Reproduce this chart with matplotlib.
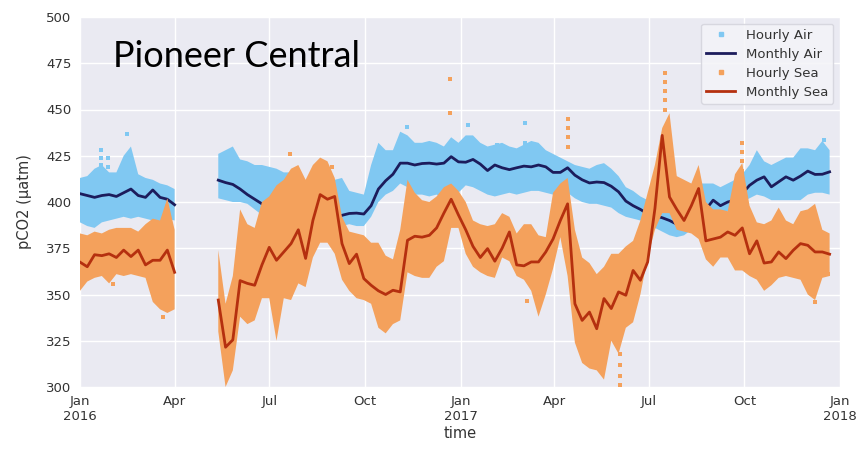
import matplotlib
matplotlib.use("Agg")
import matplotlib.pyplot as plt
import numpy as np
import pandas as pd
from matplotlib.lines import Line2D

N = np.nan

# weekly time axis
week_dates = pd.date_range("2016-01-01", periods=104, freq="7D")

air_mean = [404.5, 403.5, 402.5, 403.5, 404, 403, 405, 407, 403.5, 402.5, 406.5, 402.5, 401.5, 398.5,
            N, N, N, N, N,
            411.8, 410.5, 409.5, 407, 404, 401.5, 399, 396.5, 397.5, 401, 396, 393, 392, 392.5, 392.5,
            392, 391.5, 392.8, 393.8, 394, 393.5, 398, 407, 411.5, 415, 421, 421, 420, 420.8, 421,
            420.5, 421, 424.5, 421.7, 421.5, 423, 420.5, 417, 420, 418.5, 417.5, 418.5, 419.4, 419,
            420, 419, 416, 416, 418.5, 414.5, 412, 410.3, 410.8, 410.5, 408.5, 405.5, 400.5, 398,
            396, 393.5, 392.5, 391.5, 390, 388, 389, 393, 400, 396, 401, 398, 400, 401, 404.6, 409,
            411.8, 413.6, 408.2, 410.9, 413.6, 411.8, 414, 416.7, 414.9, 415, 416.3]

sea_mean = [367.5, 365, 371.5, 371, 372, 370, 374, 370.5, 374, 366, 368.5, 368.5, 374, 362,
            N, N, N, N, N,
            347, 321.5, 325.5, 357.5, 356, 355, 366, 375.5, 368.5, 373, 377.5, 385, 369.5, 390, 404,
            401.5, 403, 377.5, 366.7, 371.8, 358.6, 355, 352, 350, 352.3, 351.4, 379.3, 381.5, 381,
            382, 386, 394, 401.5, 393, 385, 376, 370, 374.8, 368, 375, 383.8, 366, 365.5, 367.6,
            367.6, 373, 380, 390, 399, 345, 336, 340.5, 331.5, 347.8, 342.4, 351.4, 349.6, 363,
            357.7, 367.6, 396.5, 436, 402.7, 396, 390, 398, 407.3, 379, 380, 381, 383.8, 382, 386,
            372, 379, 367, 367.6, 373, 369.4, 373.9, 377.5, 376.6, 373, 373, 371.8]

air_hourly_hi = [413, 414, 418, 420, 416, 416, 425, 430, 415, 413, 412, 410, 409, 407,
                 N, N, N, N, N,
                 426, 428, 430, 423, 422, 420, 420, 419, 418, 416, 416, 412, 410, 408, 408, 410, 412,
                 413, 406, 405, 404, 420, 432, 428, 428, 438, 436, 432, 432, 433, 432, 430, 435, 432,
                 436, 436, 432, 430, 431, 432, 430, 429, 431, 433, 432, 428, 426, 424, 422, 420, 419,
                 418, 420, 421, 418, 414, 408, 406, 403, 401, 398, 396, 396, 395, 400, 405, 410, 410,
                 410, 408, 410, 412, 415, 420, 428, 422, 420, 422, 424, 424, 429, 429, 428, 433, 428]

air_hourly_lo = [389, 387, 386, 389, 390, 391, 392, 391, 392, 391, 390, 389, 391, 390,
                 N, N, N, N, N,
                 402, 401, 400, 400, 399, 396, 393, 391, 390, 390, 388, 385, 384, 384, 384, 386, 386,
                 387, 388, 387, 387, 392, 400, 404, 406, 410, 408, 404, 404, 403, 404, 402, 404, 405,
                 409, 408, 406, 404, 403, 404, 405, 404, 405, 406, 406, 405, 404, 404, 405, 402, 400,
                 399, 399, 398, 397, 394, 392, 391, 390, 388, 386, 384, 382, 381, 382, 385, 390, 392,
                 394, 393, 395, 398, 400, 402, 404, 403, 401, 401, 401, 401, 401, 404, 405, 405, 404]

sea_hourly_hi = [383, 382, 384, 383, 385, 386, 386, 386, 384, 388, 391, 390, 402, 385,
                 N, N, N, N, N,
                 374, 345, 360, 396, 388, 386, 400, 403, 409, 412, 418, 420, 412, 420, 424, 422, 413,
                 392, 384, 383, 382, 378, 378, 371, 369, 385, 412, 405, 401, 400, 403, 408, 410, 406,
                 400, 390, 388, 387, 388, 394, 392, 383, 388, 388, 382, 381, 405, 410, 413, 385, 370,
                 367, 361, 365, 372, 372, 376, 379, 390, 405, 420, 440, 448, 414, 412, 410, 420, 400,
                 396, 396, 395, 415, 421, 398, 389, 388, 390, 397, 390, 388, 395, 396, 399, 385, 383]

sea_hourly_lo = [352, 357, 359, 360, 356, 361, 360, 361, 360, 359, 346, 342, 340, 342,
                 N, N, N, N, N,
                 330, 300, 309, 338, 334, 336, 348, 348, 325, 348, 347, 356, 354, 370, 378, 378, 372,
                 358, 352, 348, 347, 345, 332, 329, 334, 336, 362, 360, 359, 359, 365, 368, 386, 386,
                 372, 365, 362, 360, 359, 370, 368, 360, 358, 352, 338, 350, 364, 381, 360, 324, 313,
                 310, 309, 304, 325, 318, 332, 335, 350, 370, 385, 394, 394, 385, 384, 383, 380, 369,
                 365, 370, 370, 363, 363, 360, 358, 352, 355, 359, 360, 359, 358, 350, 347, 359, 360]

# isolated hourly readings standing out of the bands
air_out_dates = ["2016-01-21", "2016-01-21", "2016-01-21", "2016-01-28", "2016-01-28", "2016-02-15",
                 "2016-11-11", "2017-01-08", "2017-02-05", "2017-03-04", "2017-03-04", "2017-12-17"]
air_out_vals = [428, 424, 420, 424, 419, 437, 440.5, 441.5, 430.7, 442.6, 431.8, 433.4]

sea_out_dates = ["2016-02-02", "2016-03-21", "2016-07-21", "2016-08-30", "2016-12-22", "2016-12-22",
                 "2017-03-06", "2017-04-14", "2017-04-14", "2017-04-14", "2017-04-14",
                 "2017-06-03", "2017-06-03", "2017-06-03", "2017-06-03",
                 "2017-07-17", "2017-07-17", "2017-07-17", "2017-07-17", "2017-07-17",
                 "2017-09-29", "2017-09-29", "2017-09-29", "2017-09-29", "2017-12-08", "2017-12-20"]
sea_out_vals = [355.5, 338, 426, 419, 466.4, 448, 346.5, 445, 440, 435, 430,
                318, 312, 306, 301, 470, 465, 460, 455, 450, 432, 427, 422, 417, 346, 361]

tick_dates = ["2016-01-01", "2016-04-01", "2016-07-01", "2016-10-01", "2017-01-01",
              "2017-04-01", "2017-07-01", "2017-10-01", "2018-01-01"]
tick_labels = ["Jan\n2016", "Apr", "Jul", "Oct", "Jan\n2017", "Apr", "Jul", "Oct", "Jan\n2018"]
y_ticks = [300, 325, 350, 375, 400, 425, 450, 475, 500]

# ---------------------------------------------------------------
c_air_h = "#80C8F2"
c_sea_h = "#F4A15C"
c_air_m = "#1C1C5C"
c_sea_m = "#B5300F"

plt.rcParams["font.family"] = ["DejaVu Sans"]
fig = plt.figure(figsize=(8.56, 4.49), dpi=100)
ax = fig.add_axes([80 / 856, 1 - 387 / 449, 760 / 856, 370 / 449])
ax.set_facecolor("#EAEAF2")
for s in ax.spines.values():
    s.set_visible(False)
ax.grid(True, color="white", linewidth=1.0, zorder=0)
ax.set_axisbelow(True)

wd = week_dates
ax.fill_between(wd, np.array(air_hourly_lo, float), np.array(air_hourly_hi, float),
                color=c_air_h, linewidth=0, zorder=2)
ax.scatter(pd.to_datetime(air_out_dates), air_out_vals, s=5, color=c_air_h, marker="s",
           linewidths=0, zorder=2)
ax.plot(wd, air_mean, color=c_air_m, linewidth=2.0, zorder=3)
ax.fill_between(wd, np.array(sea_hourly_lo, float), np.array(sea_hourly_hi, float),
                color=c_sea_h, linewidth=0, zorder=4)
ax.scatter(pd.to_datetime(sea_out_dates), sea_out_vals, s=5, color=c_sea_h, marker="s",
           linewidths=0, zorder=4)
ax.plot(wd, sea_mean, color=c_sea_m, linewidth=2.0, zorder=5)

ax.set_xlim(pd.Timestamp("2016-01-01"), pd.Timestamp("2018-01-01"))
ax.set_ylim(300, 500)
ax.set_xticks(pd.to_datetime(tick_dates))
ax.set_xticklabels(tick_labels)
ax.set_yticks(y_ticks)
ax.tick_params(axis="both", length=0, labelsize=9.5, colors="#333333", pad=6)
ax.set_xlabel("time", fontsize=10.5, color="#333333", labelpad=2)
ax.set_ylabel("pCO2 (µatm)", fontsize=10.5, color="#333333", labelpad=10)

handles = [
    Line2D([], [], linestyle="none", marker="s", markersize=3.5, color=c_air_h),
    Line2D([], [], color=c_air_m, linewidth=2),
    Line2D([], [], linestyle="none", marker="s", markersize=3.5, color=c_sea_h),
    Line2D([], [], color=c_sea_m, linewidth=2),
]
labels = ["Hourly Air", "Monthly Air", "Hourly Sea", "Monthly Sea"]
leg = ax.legend(handles, labels, loc="upper right", fontsize=9.5, frameon=True,
                facecolor="#F4F4F8", edgecolor="#D5D5DD", framealpha=0.9,
                handlelength=2.2, labelspacing=0.45, borderaxespad=0.5)
for t in leg.get_texts():
    t.set_color("#333333")
leg.set_zorder(10)

ax.text(0.043, 0.865, "Pioneer Central", transform=ax.transAxes, fontsize=26,
        family=["Lato", "DejaVu Sans"], color="black", va="baseline", ha="left", zorder=11)

fig.savefig("out.png", dpi=100)
